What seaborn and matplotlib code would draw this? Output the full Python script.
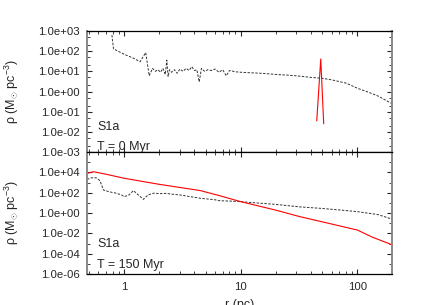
import numpy as np
import pandas as pd
import matplotlib
matplotlib.use("Agg")
import matplotlib.pyplot as plt
from matplotlib.ticker import LogLocator, FixedLocator, NullFormatter, FixedFormatter
import seaborn as sns

# ---- data ----
r_top_black = [0.785, 0.81, 1.0, 1.2, 1.37, 1.53, 1.64, 1.75, 1.85, 1.95, 2.05, 2.15, 2.25,
               2.32, 2.38, 2.45, 2.55, 2.7, 2.85, 3.0, 3.2, 3.4, 3.6, 3.8, 4.0, 4.2, 4.4, 4.6,
               4.9, 5.2, 5.6, 6.0, 6.5, 7.0, 7.5, 8.0, 9.0, 10, 12, 15, 20, 25, 30, 40, 50,
               60, 70, 80, 100, 120, 150, 200]
rho_top_black = [630, 130, 70, 45, 30, 85, 6, 14, 10, 12, 9, 14, 7,
                 36, 5.5, 12, 9, 12, 8, 13, 10, 14, 11, 17, 11, 12, 3, 14,
                 10, 12, 11, 13, 9, 12, 6, 11, 9.5, 9, 8.5, 8, 7, 6.5, 6, 5, 4.5,
                 3.8, 3.1, 2.6, 1.45, 1.0, 0.6, 0.24]
r_top_red = [44.8, 48.5, 51.4]
rho_top_red = [0.035, 41, 0.025]

r_bot_black = [0.48, 0.52, 0.55, 0.58, 0.62, 0.665, 0.75, 0.85, 0.95, 1.0, 1.1, 1.2, 1.3,
               1.46, 1.6, 1.8, 2.0, 2.3, 2.6, 3.0, 3.5, 4.0, 4.5, 5.0, 6.0, 6.6, 8.0, 10,
               15, 20, 32, 50, 70, 100, 150, 200]
rho_bot_black = [2000, 2800, 3000, 2800, 1500, 180, 120, 90, 60, 40, 60, 160, 70,
                 22, 60, 90, 80, 85, 70, 60, 45, 35, 28, 25, 20, 16, 15, 13,
                 9, 7, 4, 2.8, 2.0, 1.35, 0.7, 0.24]
r_bot_red = [0.48, 0.546, 0.7, 1.0, 2.0, 4.5, 6.6, 10, 20, 32, 50, 100, 135, 200]
rho_bot_red = [7900, 11500, 6500, 2600, 660, 160, 50, 13, 1.9, 0.44, 0.135, 0.021, 0.0041, 0.00072]

top_yticks = [1e-3, 1e-2, 1e-1, 1e0, 1e1, 1e2, 1e3]
top_ylabels = ["1.0e-03", "1.0e-02", "1.0e-01", "1.0e+00", "1.0e+01", "1.0e+02", "1.0e+03"]
bot_yticks = [1e-6, 1e-4, 1e-2, 1e0, 1e2, 1e4]
bot_ylabels = ["1.0e-06", "1.0e-04", "1.0e-02", "1.0e+00", "1.0e+02", "1.0e+04"]
xticks = [1, 10, 100]
xlabels = ["1", "10", "100"]

sns.set_style("ticks")
plt.rcParams["font.family"] = ["Liberation Sans", "DejaVu Sans"]
plt.rcParams["mathtext.fontset"] = "custom"
plt.rcParams["mathtext.rm"] = "Liberation Sans"

fig = plt.figure(figsize=(4.36, 3.05), dpi=100)
L, R = 87 / 436, 392 / 436
ax1 = fig.add_axes([L, 1 - 152 / 305, R - L, 121 / 305])
ax2 = fig.add_axes([L, 1 - 274 / 305, R - L, 122 / 305])

blk = dict(color="#333333", lw=0.7, dashes=(2.5, 1.5))
red = dict(color="#ff0000", lw=0.8)

sns.lineplot(x=r_top_black, y=rho_top_black, ax=ax1, sort=False, estimator=None, **blk)
sns.lineplot(x=r_top_red, y=rho_top_red, ax=ax1, sort=False, estimator=None, **red)
sns.lineplot(x=r_bot_black, y=rho_bot_black, ax=ax2, sort=False, estimator=None, **blk)
sns.lineplot(x=r_bot_red, y=rho_bot_red, ax=ax2, sort=False, estimator=None, **red)

ylab = r"ρ (M$_{\odot}$ pc$^{-3}$)"
for ax in (ax1, ax2):
    ax.set_xscale("log")
    ax.set_yscale("log")
    ax.set_xlim(0.48, 198)
    ax.xaxis.set_major_locator(FixedLocator(xticks))
    ax.xaxis.set_minor_locator(LogLocator(base=10, subs=np.arange(2, 10), numticks=20))
    ax.xaxis.set_minor_formatter(NullFormatter())
    ax.tick_params(which="both", direction="in", top=True, right=True, labelsize=8.2, pad=5.5)
    ax.tick_params(which="major", length=3.5, width=0.8)
    ax.tick_params(which="minor", length=2, width=0.6)
    for s in ("top", "bottom"):
        ax.spines[s].set_color("black")
        ax.spines[s].set_linewidth(0.9)
    for s in ("left", "right"):
        ax.spines[s].set_color("#888888")
        ax.spines[s].set_linewidth(1.4)
    ax.set_ylabel(ylab, fontsize=9)
    ax.yaxis.set_label_coords(-0.215, 0.5)

ax1.set_ylim(1e-3, 1e3)
ax1.yaxis.set_major_locator(FixedLocator(top_yticks))
ax1.yaxis.set_major_formatter(FixedFormatter(top_ylabels))
ax1.yaxis.set_minor_locator(LogLocator(base=10, subs=(2, 5), numticks=20))
ax1.yaxis.set_minor_formatter(NullFormatter())
ax1.set_xticklabels([])
ax1.set_xlabel("")

ax2.set_ylim(1e-6, 1e6)
ax2.yaxis.set_major_locator(FixedLocator(bot_yticks))
ax2.yaxis.set_major_formatter(FixedFormatter(bot_ylabels))
ax2.yaxis.set_minor_locator(FixedLocator([1e-5, 1e-3, 1e-1, 1e1, 1e3, 1e5]))
ax2.yaxis.set_minor_formatter(NullFormatter())
ax2.xaxis.set_major_formatter(FixedFormatter(xlabels))
ax2.set_xlabel("r (pc)", fontsize=9)
ax2.xaxis.set_label_coords(0.5, -0.205)

ax1.text(0.033, 0.21, "S1a", transform=ax1.transAxes, fontsize=9, va="center", ha="left")
ax1.text(0.033, 0.04, "T = 0 Myr", transform=ax1.transAxes, fontsize=9, va="center", ha="left")
ax2.text(0.033, 0.246, "S1a", transform=ax2.transAxes, fontsize=9, va="center", ha="left")
ax2.text(0.033, 0.074, "T = 150 Myr", transform=ax2.transAxes, fontsize=9, va="center", ha="left")

fig.savefig("out.png", dpi=100)
